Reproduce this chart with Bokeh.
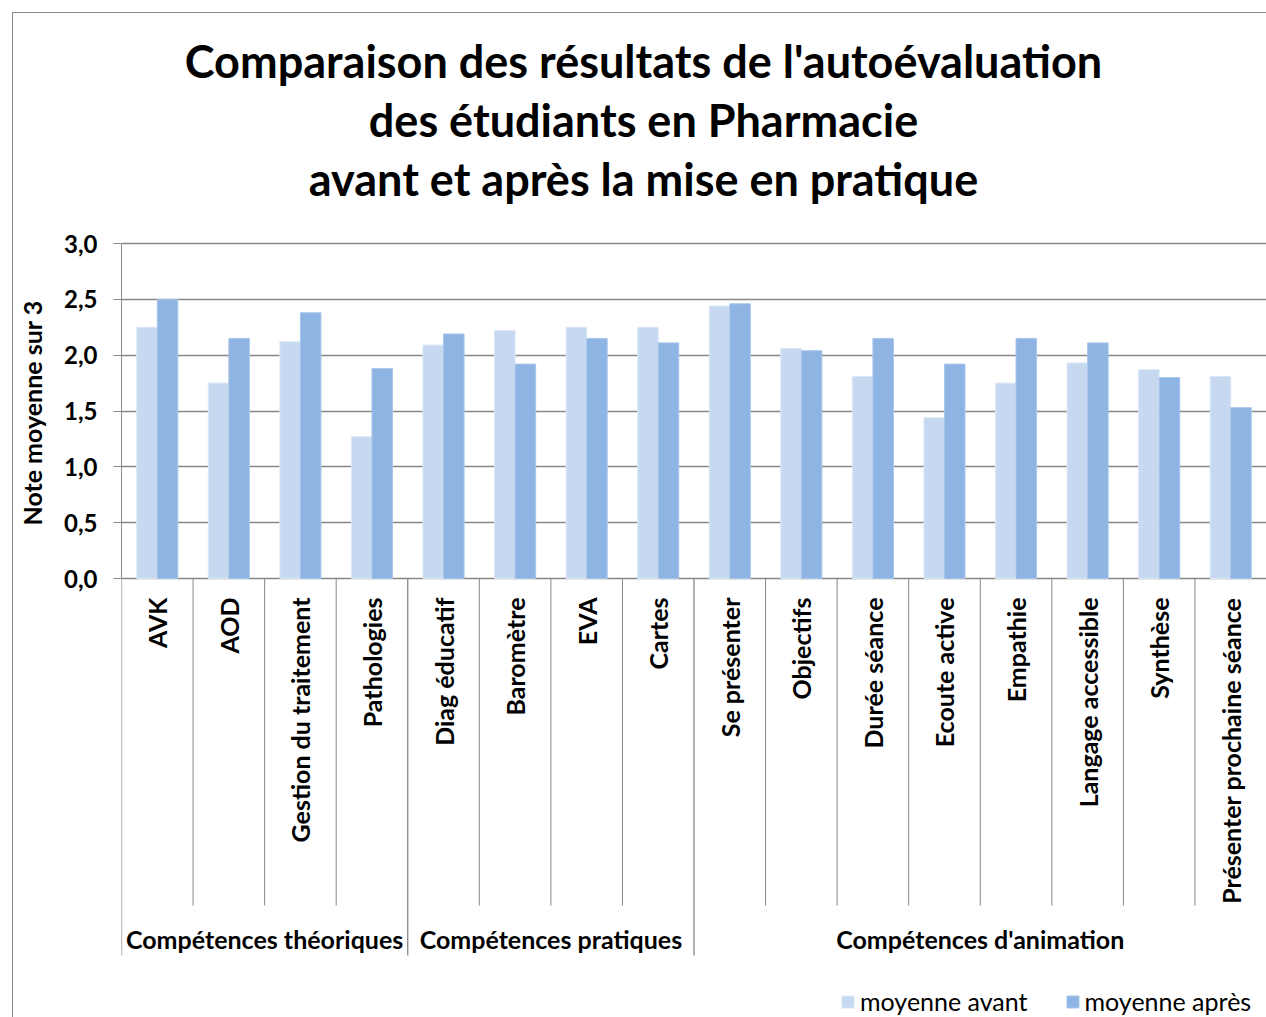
import numpy as np
from bokeh.plotting import figure
from bokeh.models import (Range1d, FixedTicker, ColumnDataSource, Legend,
                          LegendItem, Title)
from bokeh.core.properties import value
from bokeh.transform import dodge
from bokeh.embed import file_html
from bokeh.resources import INLINE

# ---------------- data ----------------
title_lines = ["Comparaison des résultats de l'autoévaluation",
               "des étudiants en Pharmacie",
               "avant et après la mise en pratique"]
categories = ["AVK", "AOD", "Gestion du traitement", "Pathologies",
              "Diag éducatif", "Baromètre", "EVA", "Cartes",
              "Se présenter", "Objectifs", "Durée séance", "Ecoute active",
              "Empathie", "Langage accessible", "Synthèse",
              "Présenter prochaine séance"]
groups = ["Compétences théoriques", "Compétences pratiques", "Compétences d'animation"]
group_sizes = [4, 4, 8]
moyenne_avant = [2.25, 1.75, 2.12, 1.27, 2.09, 2.22, 2.25, 2.25,
                 2.44, 2.06, 1.81, 1.44, 1.75, 1.93, 1.87, 1.81]
moyenne_apres = [2.50, 2.15, 2.38, 1.88, 2.19, 1.92, 2.15, 2.11,
                 2.46, 2.04, 2.15, 1.92, 2.15, 2.11, 1.80, 1.53]
series_names = ["moyenne avant", "moyenne après"]
y_ticks = [0.0, 0.5, 1.0, 1.5, 2.0, 2.5, 3.0]
y_label = "Note moyenne sur 3"

# ---------------- layout constants ----------------
FONT = "Lato"
GRAY = "#878787"
C_AVANT = "#C6D9F1"
C_APRES = "#8EB4E3"
W, H = 1266, 1017
LEFT = 121
Y0_PX, Y3_PX = 578.0, 243.0          # pixel rows of 0 and 3 on the value axis
PX_PER_UNIT = (Y0_PX - Y3_PX) / 3.0
y_hi = 3.0 + Y3_PX / PX_PER_UNIT
y_lo = -(H - Y0_PX) / PX_PER_UNIT
n = len(categories)

p = figure(width=W, height=H, output_backend="svg", toolbar_location=None,
           x_range=Range1d(0, n), y_range=Range1d(y_lo, y_hi),
           x_axis_location=None, min_border=0, min_border_left=LEFT,
           outline_line_color=None, background_fill_color=None,
           border_fill_color=None,
           styles={"background-color": "white",
                   "background-image": "linear-gradient(#878787, #878787), linear-gradient(#878787, #878787)",
                   "background-size": "1px 100%, 100% 1px",
                   "background-position": "12px 12px, 12px 12px",
                   "background-repeat": "no-repeat"})
# pixel-based helper ranges for the decorations (title, label area)
p.extra_x_ranges = {"px": Range1d(LEFT, W)}
p.extra_y_ranges = {"px": Range1d(H, 0)}

src = ColumnDataSource(dict(x=np.arange(n) + 0.5, cat=categories,
                            avant=moyenne_avant, apres=moyenne_apres))
bw = 0.287
r1 = p.vbar(x=dodge("x", -bw / 2), top="avant", width=bw, bottom=0,
            source=src, fill_color=C_AVANT, line_color="#DCE7F5", line_width=1)
r2 = p.vbar(x=dodge("x", bw / 2), top="apres", width=bw, bottom=0,
            source=src, fill_color=C_APRES, line_color="#A9C6EA", line_width=1)

# value axis & grid
tick = FixedTicker(ticks=y_ticks)
ax = p.yaxis[0]
ax.ticker = tick
ax.bounds = (0, 3)
ax.major_label_overrides = {t: f"{t:.1f}".replace(".", ",") for t in y_ticks}
ax.axis_line_color = GRAY
ax.major_tick_line_color = GRAY
ax.major_tick_out = 8
ax.major_tick_in = 0
ax.minor_tick_line_color = None
ax.major_label_standoff = 16
ax.major_label_text_font = FONT
ax.major_label_text_font_style = "bold"
ax.major_label_text_font_size = "24px"
ax.major_label_text_color = "black"
p.ygrid.ticker = tick
p.ygrid.grid_line_color = GRAY
p.ygrid.grid_line_width = 1.3
p.xgrid.visible = False

# value-axis title, anchored above the bottom of the plot frame
p.add_layout(Title(text=y_label, align="left", offset=H - 525,
                   vertical_align="middle", standoff=28,
                   text_font=FONT, text_font_style="bold",
                   text_font_size="25px", text_color="black"), "left")

# chart title
p.text(x=[643] * 3, y=[60, 119, 178], text=title_lines, x_range_name="px",
       y_range_name="px", text_align="center", text_baseline="middle",
       text_font=value(FONT), text_font_style="bold", text_font_size="45px",
       text_color="black")

# category labels
p.text(x="x", y=597, text="cat", source=src, y_range_name="px",
       angle=np.pi / 2, text_align="right", text_baseline="middle",
       text_font=value(FONT), text_font_style="bold", text_font_size="25px",
       text_color="black")

# category separators and group separators
bounds = np.cumsum([0] + group_sizes)
grp_x = list(bounds[:-1])
sep_x = [i for i in range(1, n) if i not in bounds]
p.segment(x0=sep_x, x1=sep_x, y0=Y0_PX, y1=905, y_range_name="px",
          line_color=GRAY, line_width=1)
p.segment(x0=grp_x, x1=grp_x, y0=Y0_PX, y1=955, y_range_name="px",
          line_color=GRAY, line_width=1.3)

# group labels
gx = [bounds[i] + group_sizes[i] / 2 for i in range(len(groups))]
p.text(x=gx, y=[938] * len(groups), text=groups, y_range_name="px",
       text_align="center", text_baseline="middle", text_font=value(FONT),
       text_font_style="bold", text_font_size="25px", text_color="black")

legend = Legend(items=[LegendItem(label=series_names[0], renderers=[r1]),
                       LegendItem(label=series_names[1], renderers=[r2])],
                orientation="horizontal", location=(840 - LEFT, 1),
                glyph_width=15, glyph_height=15, label_standoff=5, spacing=37,
                padding=0, margin=0, border_line_color=None,
                background_fill_alpha=0, label_text_font=FONT,
                label_text_font_size="25px", label_text_color="black")
p.add_layout(legend)

open("out.html", "w").write(file_html(p, INLINE))
